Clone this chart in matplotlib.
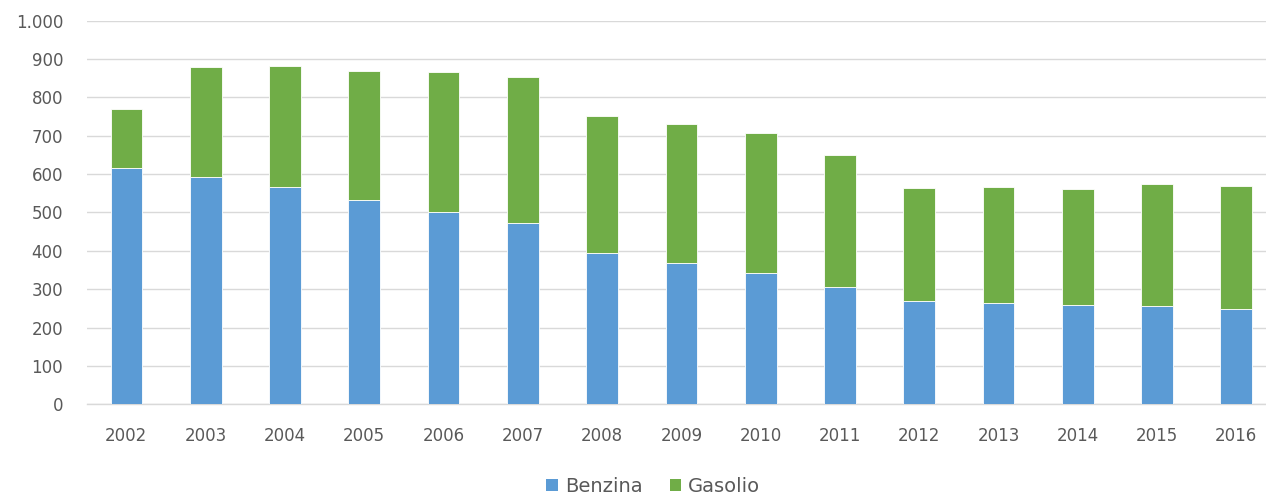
import matplotlib
matplotlib.use("Agg")
import matplotlib.pyplot as plt
from matplotlib.patches import Patch
from matplotlib.ticker import FuncFormatter

years = ["2002", "2003", "2004", "2005", "2006", "2007", "2008", "2009",
         "2010", "2011", "2012", "2013", "2014", "2015", "2016"]
benzina = [617, 593, 566, 533, 502, 472, 395, 368, 342, 305, 268, 265, 258, 255, 248]
totale = [771, 878, 881, 868, 865, 854, 751, 730, 707, 650, 563, 566, 560, 573, 570]
gasolio = [t - b for t, b in zip(totale, benzina)]

blue = "#5B9BD5"
green = "#70AD47"
grey_text = "#595959"
grid_col = "#D9D9D9"

plt.rcParams['font.family'] = ['DejaVu Sans']

fig = plt.figure(figsize=(12.66, 4.94), dpi=100)
ax = fig.add_axes([0.0685, 0.1816, 1 - 0.0685, 0.7765])

x = range(len(years))
ax.bar(x, benzina, width=0.4, color=blue, edgecolor="white", linewidth=0.6, zorder=3)
ax.bar(x, gasolio, width=0.4, bottom=benzina, color=green, edgecolor="white",
       linewidth=0.6, zorder=3)

ax.set_ylim(0, 1000)
ax.set_xlim(-0.5, 14.5 - 10 / 79.3)
ax.set_yticks(range(0, 1001, 100))
ax.yaxis.set_major_formatter(FuncFormatter(lambda v, p: f"{int(v):,}".replace(",", ".")))
ax.set_xticks(list(x))
ax.set_xticklabels(years)

ax.grid(axis="y", color=grid_col, linewidth=1.0, zorder=0)
for s in ["top", "right", "left"]:
    ax.spines[s].set_visible(False)
ax.spines["bottom"].set_color(grid_col)
ax.spines["bottom"].set_linewidth(1.0)
ax.tick_params(axis="both", length=0, colors=grey_text, labelsize=12)
ax.tick_params(axis="y", pad=17)
ax.tick_params(axis="x", pad=16)

handles = [Patch(facecolor=blue, label="Benzina"), Patch(facecolor=green, label="Gasolio")]
fig.legend(handles=handles, loc="center", bbox_to_anchor=(0.516, 0.016), ncol=2,
           frameon=False, fontsize=14, labelcolor=grey_text, handlelength=0.6,
           handleheight=0.6, handletextpad=0.35, columnspacing=1.4)

fig.savefig("out.png", dpi=100)
